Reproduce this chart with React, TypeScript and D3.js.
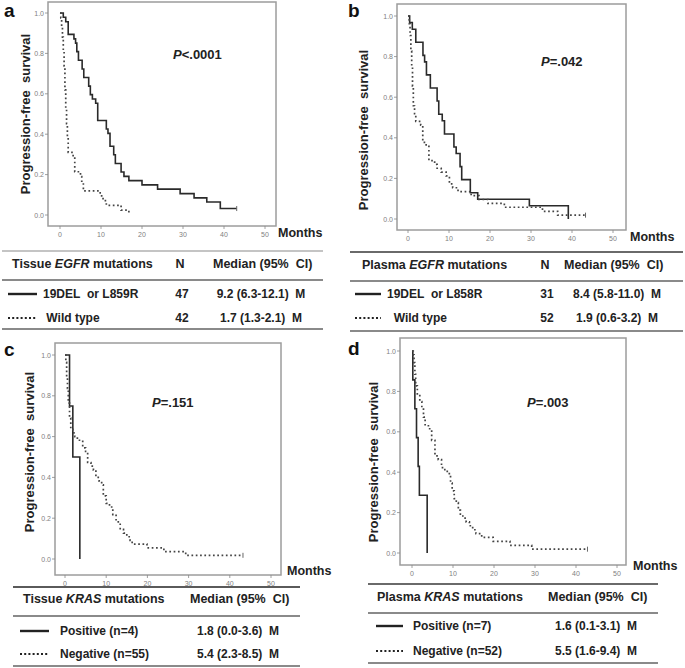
import * as d3 from "d3";

const FONT = "'Liberation Sans', Arial, Helvetica, sans-serif";

// ---- data (months, survival after each event) ----
const monthTicks = [0, 10, 20, 30, 40, 50];
const survTicks = [0, 0.2, 0.4, 0.6, 0.8, 1.0];

// a: tissue EGFR
const tissueMutTimes = [0.8, 1.4, 2.0, 3.4, 3.8, 4.1, 4.5, 5.4, 5.8, 7.0, 7.4, 7.9, 8.7, 9.2, 11.3, 11.7, 12.2, 13.1, 13.5, 14.9, 15.6, 16.8, 20.0, 23.8, 29.3, 32.7, 35.8, 39.1];
const tissueMutSurv = [0.979, 0.957, 0.894, 0.872, 0.851, 0.809, 0.766, 0.723, 0.681, 0.638, 0.596, 0.574, 0.553, 0.468, 0.426, 0.404, 0.34, 0.298, 0.255, 0.213, 0.191, 0.17, 0.149, 0.128, 0.106, 0.085, 0.064, 0.032];
const tissueMutEnd = 43.1;
const tissueWtTimes = [0.2, 0.4, 0.6, 0.8, 1.0, 1.2, 1.4, 1.6, 1.8, 2.0, 3.2, 3.6, 5.0, 5.3, 5.7, 9.8, 10.5, 11.3, 14.9, 16.8];
const tissueWtSurv = [0.976, 0.929, 0.881, 0.81, 0.738, 0.619, 0.524, 0.452, 0.381, 0.31, 0.286, 0.214, 0.19, 0.167, 0.119, 0.095, 0.071, 0.048, 0.024, 0.0];
const tissueWtEnd = 16.8;

// b: plasma EGFR
const plasmaMutTimes = [0.4, 1.05, 1.9, 3.65, 4.05, 4.5, 5.45, 7.1, 7.5, 8.35, 8.9, 11.2, 11.75, 12.7, 13.1, 15.2, 17.0, 29.6, 39.1];
const plasmaMutSurv = [0.968, 0.935, 0.871, 0.806, 0.774, 0.71, 0.645, 0.581, 0.516, 0.484, 0.419, 0.355, 0.323, 0.258, 0.194, 0.129, 0.097, 0.065, 0.0];
const plasmaMutEnd = 39.1;
const plasmaWtTimes = [0.3, 0.5, 0.7, 0.9, 1.1, 1.3, 1.6, 1.9, 3.1, 3.6, 4.0, 5.1, 6.5, 7.1, 8.1, 9.3, 10.1, 10.9, 12.2, 15.4, 17.3, 19.5, 23.5, 32.8, 36.5];
const plasmaWtSurv = [0.962, 0.904, 0.827, 0.75, 0.654, 0.558, 0.519, 0.481, 0.462, 0.385, 0.365, 0.288, 0.269, 0.25, 0.231, 0.212, 0.173, 0.154, 0.135, 0.115, 0.096, 0.077, 0.058, 0.038, 0.019];
const plasmaWtEnd = 43.3;

// c: tissue KRAS
const tKrasPosTimes = [1.1, 1.9, 3.6];
const tKrasPosSurv = [0.75, 0.5, 0.0];
const tKrasPosEnd = 3.6;
const tKrasNegTimes = [0.2, 0.4, 0.6, 0.8, 1.1, 1.4, 1.9, 2.4, 3.0, 4.3, 5.0, 5.5, 6.3, 6.9, 7.5, 8.3, 8.9, 9.3, 10.0, 10.8, 11.6, 12.4, 13.4, 14.2, 15.0, 15.8, 16.3, 19.9, 24.0, 29.3];
const tKrasNegSurv = [0.964, 0.891, 0.836, 0.764, 0.691, 0.636, 0.618, 0.6, 0.582, 0.545, 0.527, 0.473, 0.455, 0.436, 0.4, 0.382, 0.364, 0.309, 0.273, 0.255, 0.218, 0.182, 0.145, 0.127, 0.109, 0.091, 0.073, 0.055, 0.036, 0.018];
const tKrasNegEnd = 43.2;

// d: plasma KRAS
const pKrasPosTimes = [0.2, 0.7, 1.1, 1.5, 1.8, 3.7];
const pKrasPosSurv = [0.857, 0.714, 0.571, 0.429, 0.286, 0.0];
const pKrasPosEnd = 3.7;
const pKrasNegTimes = [0.3, 0.5, 0.7, 0.9, 1.3, 1.9, 2.4, 2.8, 3.2, 4.0, 4.8, 5.6, 6.4, 7.2, 8.0, 9.1, 9.4, 9.8, 10.3, 10.8, 11.3, 11.8, 12.4, 13.2, 14.0, 14.8, 15.6, 17.0, 19.8, 23.9, 29.2];
const pKrasNegSurv = [0.981, 0.942, 0.885, 0.827, 0.788, 0.75, 0.712, 0.673, 0.635, 0.615, 0.558, 0.481, 0.462, 0.423, 0.404, 0.385, 0.346, 0.308, 0.269, 0.25, 0.212, 0.192, 0.173, 0.154, 0.135, 0.115, 0.096, 0.077, 0.058, 0.038, 0.019];
const pKrasNegEnd = 42.8;

// table texts
const egfrTissueRows = [
  { label: "19DEL  or L859R", n: "47", median: "9.2 (6.3-12.1)  M" },
  { label: " Wild type", n: "42", median: "1.7 (1.3-2.1)  M" },
];
const egfrPlasmaRows = [
  { label: "19DEL  or L858R", n: "31", median: "8.4 (5.8-11.0)  M" },
  { label: "  Wild type", n: "52", median: "1.9 (0.6-3.2)  M" },
];
const krasTissueRows = [
  { label: "Positive (n=4)", n: "", median: "1.8 (0.0-3.6)  M" },
  { label: "Negative (n=55)", n: "", median: "5.4 (2.3-8.5)  M" },
];
const krasPlasmaRows = [
  { label: "Positive (n=7)", n: "", median: "1.6 (0.1-3.1)  M" },
  { label: "Negative (n=52)", n: "", median: "5.5 (1.6-9.4)  M" },
];

// keep runs of spaces visible in svg text
const keep = (s: string) => s.replace(/ /g, "\u00A0");

type Curve = { times: number[]; surv: number[]; end: number; dotted: boolean };

function kmPoints(c: Curve): [number, number][] {
  const pts: [number, number][] = [[0, 1]];
  c.times.forEach((t, i) => pts.push([t, c.surv[i]]));
  pts.push([c.end, c.surv[c.surv.length - 1]]);
  return pts;
}

function KMPanel(props: any) {
  const { box, xr, yr, curves, letter, letterPos, pLabel, pPos, ylabPos, monthsPos } = props;
  const x = d3.scaleLinear().domain([0, 50]).range(xr);
  const y = d3.scaleLinear().domain([0, 1]).range(yr);
  const line = d3
    .line<[number, number]>()
    .x((d) => x(d[0]))
    .y((d) => y(d[1]))
    .curve(d3.curveStepAfter);
  const fmt = d3.format(".1f");
  return (
    <g>
      <text x={letterPos[0]} y={letterPos[1]} fontSize={19} fontWeight="bold" fill="#111">
        {letter}
      </text>
      <rect x={box[0]} y={box[1]} width={box[2] - box[0]} height={box[3] - box[1]} fill="none" stroke="#9c9c9c" strokeWidth={1.5} />
      {survTicks.map((t) => (
        <g key={"y" + t}>
          <line x1={box[0] - 3} x2={box[0]} y1={y(t)} y2={y(t)} stroke="#888" strokeWidth={0.8} />
          <text x={box[0] - 4} y={y(t) + 2.5} fontSize={7} textAnchor="end" fill="#808080">
            {fmt(t)}
          </text>
        </g>
      ))}
      {monthTicks.map((t) => (
        <g key={"x" + t}>
          <line x1={x(t)} x2={x(t)} y1={box[3]} y2={box[3] + 3} stroke="#888" strokeWidth={0.8} />
          <text x={x(t)} y={box[3] + 11} fontSize={7} textAnchor="middle" fill="#808080">
            {t}
          </text>
        </g>
      ))}
      {curves.map((c: Curve, i: number) => {
        const pts = kmPoints(c);
        const last = pts[pts.length - 1];
        return (
          <g key={i}>
            <path
              d={line(pts) || ""}
              fill="none"
              stroke={c.dotted ? "#444" : "#2a2a2a"}
              strokeWidth={c.dotted ? 1.7 : 1.6}
              strokeDasharray={c.dotted ? "1.7 2.6" : undefined}
            />
            {c.end > c.times[c.times.length - 1] && (
              <line x1={x(last[0])} x2={x(last[0])} y1={y(last[1]) - 2.5} y2={y(last[1]) + 2.5} stroke="#666" strokeWidth={1} />
            )}
          </g>
        );
      })}
      <text x={pPos[0]} y={pPos[1]} fontSize={13} fontWeight="bold" fill="#222">
        <tspan fontStyle="italic">P</tspan>
        {pLabel}
      </text>
      <text
        transform={`translate(${ylabPos[0]},${ylabPos[1]}) rotate(-90)`}
        textAnchor="middle"
        fontSize={13}
        fontWeight="bold"
        fill="#222"
      >
        {keep("Progression-free  survival")}
      </text>
      <text x={monthsPos[0]} y={monthsPos[1]} fontSize={12.5} fontWeight="bold" fill="#222">
        Months
      </text>
    </g>
  );
}

function SurvTable(props: any) {
  const { x0, x1, lines, headY, rowsY, prefix, gene, labelX, nX, medHeadX, medX, sample, rows, topColor } = props;
  return (
    <g fontFamily={FONT} fill="#222">
      <line x1={x0} x2={x1} y1={lines[0]} y2={lines[0]} stroke={topColor} strokeWidth={2} />
      <line x1={x0} x2={x1} y1={lines[1]} y2={lines[1]} stroke="#8a8a8a" strokeWidth={2} />
      <line x1={x0} x2={x1} y1={lines[2]} y2={lines[2]} stroke="#8a8a8a" strokeWidth={2} />
      <text x={labelX} y={headY} fontSize={12.5} fontWeight="bold">
        {prefix + "\u00A0"}
        <tspan fontStyle="italic">{gene}</tspan>
        {"\u00A0mutations"}
      </text>
      {nX != null && (
        <text x={nX} y={headY} fontSize={12.5} fontWeight="bold" textAnchor="middle">
          N
        </text>
      )}
      <text x={medHeadX} y={headY} fontSize={12.5} fontWeight="bold">
        {keep("Median (95%  CI)")}
      </text>
      {rows.map((r: any, i: number) => (
        <g key={i}>
          <line
            x1={sample[0]}
            x2={sample[1]}
            y1={rowsY[i] - 4}
            y2={rowsY[i] - 4}
            stroke="#222"
            strokeWidth={i === 0 ? 2.4 : 2}
            strokeDasharray={i === 0 ? undefined : "2 2.2"}
          />
          <text x={sample[2]} y={rowsY[i]} fontSize={12} fontWeight="bold">
            {keep(r.label)}
          </text>
          {nX != null && (
            <text x={nX + 2} y={rowsY[i]} fontSize={12} fontWeight="bold" textAnchor="middle">
              {r.n}
            </text>
          )}
          <text x={medX} y={rowsY[i]} fontSize={12} fontWeight="bold" textAnchor="middle">
            {keep(r.median)}
          </text>
        </g>
      ))}
    </g>
  );
}

export default function App() {
  return (
    <svg
      width={685}
      height={668}
      style={{ position: "absolute", left: 0, top: 0, background: "#fff" }}
      fontFamily={FONT}
    >
      <KMPanel
        box={[48, 2, 276, 226]}
        xr={[60, 265]}
        yr={[215, 13]}
        curves={[
          { times: tissueMutTimes, surv: tissueMutSurv, end: tissueMutEnd, dotted: false },
          { times: tissueWtTimes, surv: tissueWtSurv, end: tissueWtEnd, dotted: true },
        ]}
        letter="a"
        letterPos={[4, 17]}
        pLabel="<.0001"
        pPos={[173, 59]}
        ylabPos={[30, 114]}
        monthsPos={[278, 237]}
      />
      <KMPanel
        box={[397, 4, 626, 230]}
        xr={[408, 613]}
        yr={[219, 16]}
        curves={[
          { times: plasmaMutTimes, surv: plasmaMutSurv, end: plasmaMutEnd, dotted: false },
          { times: plasmaWtTimes, surv: plasmaWtSurv, end: plasmaWtEnd, dotted: true },
        ]}
        letter="b"
        letterPos={[348, 17]}
        pLabel="=.042"
        pPos={[541, 66]}
        ylabPos={[368, 130]}
        monthsPos={[630, 241]}
      />
      <KMPanel
        box={[55, 343, 281, 575]}
        xr={[65, 271]}
        yr={[559, 355]}
        curves={[
          { times: tKrasPosTimes, surv: tKrasPosSurv, end: tKrasPosEnd, dotted: false },
          { times: tKrasNegTimes, surv: tKrasNegSurv, end: tKrasNegEnd, dotted: true },
        ]}
        letter="c"
        letterPos={[4, 356]}
        pLabel="=.151"
        pPos={[152, 407]}
        ylabPos={[34, 452]}
        monthsPos={[287, 575]}
      />
      <KMPanel
        box={[400, 338, 626, 565]}
        xr={[412, 617]}
        yr={[553, 351]}
        curves={[
          { times: pKrasPosTimes, surv: pKrasPosSurv, end: pKrasPosEnd, dotted: false },
          { times: pKrasNegTimes, surv: pKrasNegSurv, end: pKrasNegEnd, dotted: true },
        ]}
        letter="d"
        letterPos={[348, 355]}
        pLabel="=.003"
        pPos={[527, 407]}
        ylabPos={[378, 462]}
        monthsPos={[633, 570]}
      />
      <SurvTable
        x0={2}
        x1={323}
        lines={[251, 280, 329]}
        headY={268}
        rowsY={[298, 322]}
        prefix="Tissue"
        gene="EGFR"
        labelX={12}
        nX={180}
        medHeadX={213}
        medX={261}
        sample={[8, 37, 43]}
        rows={egfrTissueRows}
        topColor="#c4c4c4"
      />
      <SurvTable
        x0={350}
        x1={683}
        lines={[252, 281, 331]}
        headY={269}
        rowsY={[298, 322]}
        prefix="Plasma"
        gene="EGFR"
        labelX={362}
        nX={545}
        medHeadX={564}
        medX={617}
        sample={[355, 381, 387]}
        rows={egfrPlasmaRows}
        topColor="#6a6a6a"
      />
      <SurvTable
        x0={13}
        x1={300}
        lines={[587, 616, 666]}
        headY={603}
        rowsY={[635, 658]}
        prefix="Tissue"
        gene="KRAS"
        labelX={23}
        nX={null}
        medHeadX={190}
        medX={238}
        sample={[20, 49, 60]}
        rows={krasTissueRows}
        topColor="#5a5a5a"
      />
      <SurvTable
        x0={368}
        x1={658}
        lines={[584, 613, 663]}
        headY={601}
        rowsY={[630, 655]}
        prefix="Plasma"
        gene="KRAS"
        labelX={377}
        nX={null}
        medHeadX={548}
        medX={596}
        sample={[376, 403, 413]}
        rows={krasPlasmaRows}
        topColor="#6a6a6a"
      />
    </svg>
  );
}
